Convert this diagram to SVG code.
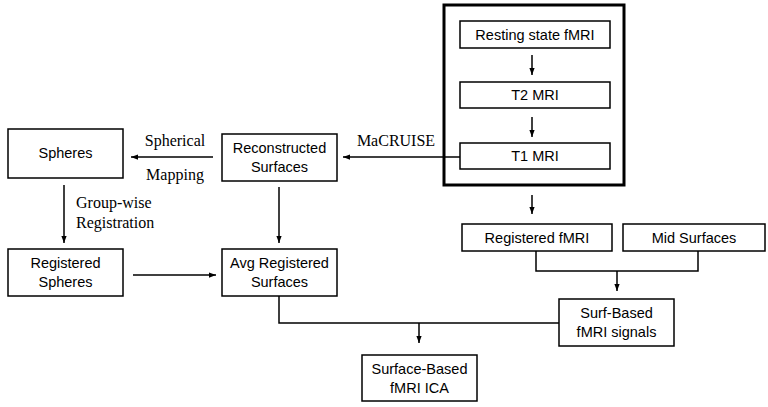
<svg xmlns="http://www.w3.org/2000/svg" width="768" height="407" viewBox="0 0 768 407">
<defs>
<marker id="ah" viewBox="0 0 8 8" refX="8" refY="4" markerWidth="7" markerHeight="7" markerUnits="userSpaceOnUse" orient="auto">
<path d="M0,1 L8,4 L0,7 Z" fill="#000"/>
</marker>
<style>
.box{fill:#fff;stroke:#000;stroke-width:1.5}
.big{fill:none;stroke:#000;stroke-width:3}
.t{font-family:"Liberation Sans",Arial,sans-serif;font-size:14.5px;fill:#000;text-anchor:middle}
.s{font-family:"Liberation Serif","Times New Roman",serif;font-size:16px;fill:#000}
.c{fill:none;stroke:#000;stroke-width:1.5}
</style>
</defs>
<rect width="768" height="407" fill="#fff"/>
<g id="input-group"><rect class="big" x="444" y="5" width="180" height="180"/></g>
<g id="resting"><rect class="box" x="460" y="21" width="150" height="27"/><text class="t" x="535" y="39.5">Resting state fMRI</text></g>
<g id="t2"><rect class="box" x="460" y="82" width="150" height="26"/><text class="t" x="535" y="100">T2 MRI</text></g>
<g id="t1"><rect class="box" x="460" y="143" width="150" height="26"/><text class="t" x="535" y="161">T1 MRI</text></g>
<g id="recon"><rect class="box" x="222" y="134" width="115" height="47"/><text class="t" x="279.5" y="153">Reconstructed</text><text class="t" x="279.5" y="172">Surfaces</text></g>
<g id="spheres"><rect class="box" x="8" y="129" width="115" height="49"/><text class="t" x="65.5" y="158">Spheres</text></g>
<g id="regspheres"><rect class="box" x="8" y="249" width="115" height="47"/><text class="t" x="65.5" y="268">Registered</text><text class="t" x="65.5" y="287">Spheres</text></g>
<g id="avg"><rect class="box" x="222" y="249" width="115" height="47"/><text class="t" x="279.5" y="268">Avg Registered</text><text class="t" x="279.5" y="287">Surfaces</text></g>
<g id="regfmri"><rect class="box" x="462" y="224" width="150" height="27"/><text class="t" x="537" y="242.5">Registered fMRI</text></g>
<g id="mid"><rect class="box" x="623" y="224" width="142" height="27"/><text class="t" x="694" y="242.5">Mid Surfaces</text></g>
<g id="surfsig"><rect class="box" x="559" y="299" width="115" height="47"/><text class="t" x="616.5" y="318">Surf-Based</text><text class="t" x="616.5" y="337">fMRI signals</text></g>
<g id="ica"><rect class="box" x="362" y="355" width="115" height="46"/><text class="t" x="419.5" y="374">Surface-Based</text><text class="t" x="419.5" y="393">fMRI ICA</text></g>
<g id="connectors">
<line class="c" x1="532" y1="55" x2="532" y2="75" marker-end="url(#ah)"/>
<line class="c" x1="532" y1="117" x2="532" y2="137" marker-end="url(#ah)"/>
<line class="c" x1="460" y1="157" x2="343" y2="157" marker-end="url(#ah)"/>
<line class="c" x1="213" y1="157" x2="131" y2="157" marker-end="url(#ah)"/>
<line class="c" x1="64" y1="185" x2="64" y2="243" marker-end="url(#ah)"/>
<line class="c" x1="279" y1="187" x2="279" y2="243" marker-end="url(#ah)"/>
<line class="c" x1="133" y1="275" x2="216" y2="275" marker-end="url(#ah)"/>
<line class="c" x1="532" y1="195" x2="532" y2="214" marker-end="url(#ah)"/>
<polyline class="c" points="536,251 536,271 698,271 698,251"/>
<line class="c" x1="617" y1="271" x2="617" y2="291" marker-end="url(#ah)"/>
<polyline class="c" points="279,296 279,323 559,323"/>
<line class="c" x1="419" y1="323" x2="419" y2="343" marker-end="url(#ah)"/>
<text class="s" x="396" y="146" text-anchor="middle">MaCRUISE</text>
<text class="s" x="175" y="146" text-anchor="middle">Spherical</text>
<text class="s" x="175" y="180" text-anchor="middle">Mapping</text>
<text class="s" x="76" y="208">Group-wise</text>
<text class="s" x="76" y="228">Registration</text>
</g>
</svg>
